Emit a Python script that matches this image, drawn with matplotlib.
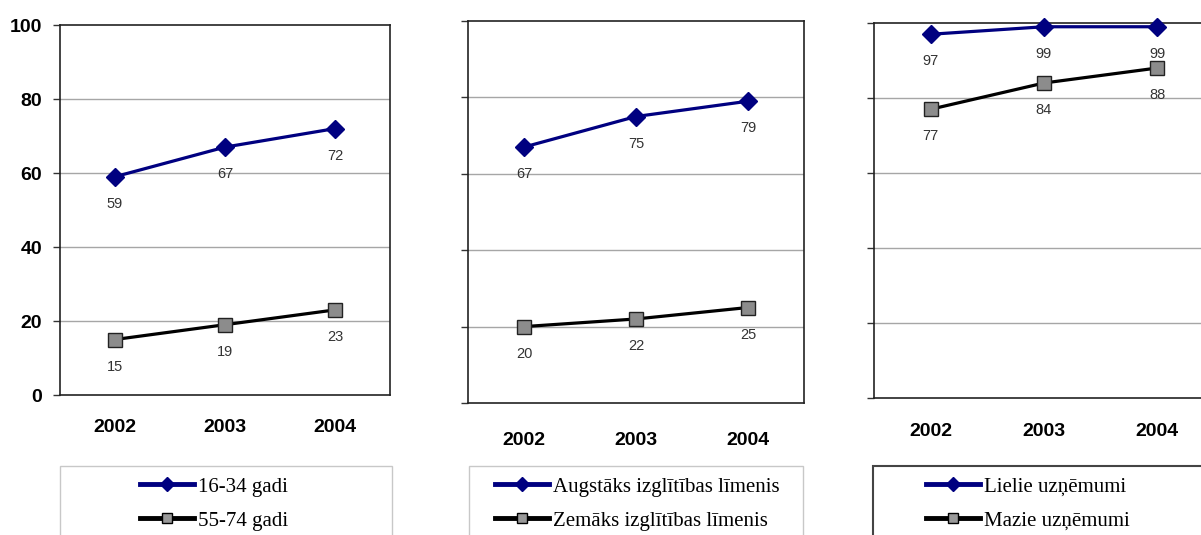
import matplotlib.pyplot as plt
from matplotlib.lines import Line2D
from matplotlib.patches import Rectangle

# values
years = ['2002', '2003', '2004']

age_young = [59, 67, 72]
age_old = [15, 19, 23]
edu_high = [67, 75, 79]
edu_low = [20, 22, 25]
ent_large = [97, 99, 99]
ent_small = [77, 84, 88]

legend_labels = [
    ['16-34 gadi', '55-74 gadi'],
    ['Augstāks izglītības līmenis', 'Zemāks izglītības līmenis'],
    ['Lielie uzņēmumi', 'Mazie uzņēmumi'],
]

W, H = 1201, 535
NAVY = '#000080'
GREY = '#8c8c8c'

fig = plt.figure(figsize=(W / 100, H / 100), dpi=100)
fig.patch.set_facecolor('white')


def px_axes(left, top, right, bottom):
    return fig.add_axes([left / W, 1 - bottom / H, (right - left) / W, (bottom - top) / H])


def draw_panel(ax, upper, lower, show_ylabels, xpad):
    x = range(len(years))
    ax.plot(x, upper, color=NAVY, lw=2.3, marker='D', ms=9, mfc=NAVY, mec=NAVY, zorder=3, clip_on=False)
    ax.plot(x, lower, color='black', lw=2.3, marker='s', ms=10, mfc=GREY, mec='#222222', mew=1, zorder=3,
            clip_on=False)
    for i, v in enumerate(upper + lower):
        ax.annotate(str(v), (i % 3, v), xytext=(0, -19.5), textcoords='offset points', ha='center',
                    va='center', fontsize=10.5, color='#333333', family='Liberation Sans')

    ax.set_xlim(-0.5, 2.5)
    ax.set_ylim(0, 100)
    ax.set_yticks([0, 20, 40, 60, 80, 100])
    ax.set_xticks(list(x))
    ax.set_xticklabels(years, fontsize=14, fontweight='bold', family='Liberation Sans')
    ax.tick_params(axis='x', length=0, pad=xpad)
    ax.tick_params(axis='y', length=5, width=1, color='#333333', pad=8)
    if show_ylabels:
        ax.set_yticklabels([str(t) for t in [0, 20, 40, 60, 80, 100]], fontsize=14, fontweight='bold',
                           family='Liberation Sans')
    else:
        ax.set_yticklabels([])
    for y in [20, 40, 60, 80]:
        ax.axhline(y, color='#a6a6a6', lw=1, zorder=1)
    for s in ax.spines.values():
        s.set_color('#222222')
        s.set_linewidth(1.2)


ax1 = px_axes(60, 25, 390, 395)
draw_panel(ax1, age_young, age_old, True, 17)

ax2 = px_axes(468, 21, 804, 403)
draw_panel(ax2, edu_high, edu_low, False, 21)

ax3 = px_axes(874, 23, 1214, 398)
draw_panel(ax3, ent_large, ent_small, False, 18)

# legend boxes (cut off at the bottom of the picture)
boxes = [(60, 392, '#c8c8c8', 1), (469, 803, '#c8c8c8', 1), (873, 1230, '#444444', 1.5)]
for left, right, col, lw in boxes:
    fig.patches.append(Rectangle((left / W, -0.05), (right - left) / W, 0.05 + 1 - 466 / H,
                                 transform=fig.transFigure, fill=False, edgecolor=col, lw=lw))

handles = [
    Line2D([], [], color=NAVY, lw=3.5, marker='D', ms=7, mfc=NAVY, mec=NAVY),
    Line2D([], [], color='black', lw=3.5, marker='s', ms=7, mfc='#999999', mec='black'),
]
starts = [140, 495, 926]
for ax, labels, xs in zip([ax1, ax2, ax3], legend_labels, starts):
    ax.legend(handles, labels, loc='upper left', bbox_to_anchor=(xs / W, 1 - 477 / H),
              bbox_transform=fig.transFigure, frameon=False, borderpad=0, borderaxespad=0,
              handlelength=2.6, handletextpad=0.2, labelspacing=0.7,
              prop={'family': 'Liberation Serif', 'size': 15})

fig.savefig('out.png', dpi=100, facecolor='white')
